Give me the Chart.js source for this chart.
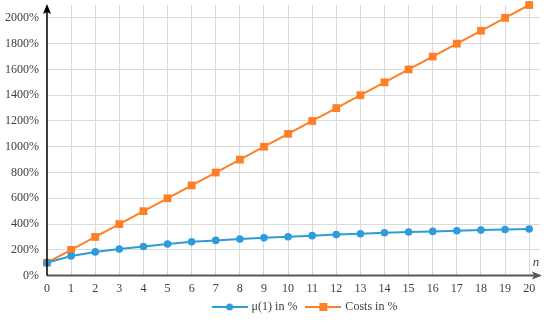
<!DOCTYPE html>
<html lang="en">
<head>
  <meta charset="UTF-8">
  <title>mu(1) vs costs</title>
  <script src="https://cdn.jsdelivr.net/npm/chart.js"></script>
  <style>
    html, body { margin: 0; padding: 0; background: #fff; }
    #wrap { width: 550px; height: 324px; }
  </style>
</head>
<body>
  <div id="wrap"><canvas id="chart"></canvas></div>

  <script>
    // data
    const nValues = [0,1,2,3,4,5,6,7,8,9,10,11,12,13,14,15,16,17,18,19,20];
    const muValues = [100,152,184,207,226,245,262,273,284,293,302,310,318,325,332,338,343,348,353,358,362];
    const costValues = [100,200,300,400,500,600,700,800,900,1000,1100,1200,1300,1400,1500,1600,1700,1800,1900,2000,2100];
    const yTicks = [0,200,400,600,800,1000,1200,1400,1600,1800,2000];
    const seriesNames = ['\u03bc(1) in %', 'Costs in %'];

    const BLUE = '#2E9CDB';
    const ORANGE = '#FF7F27';
    const FONT = "'Liberation Serif', 'Times New Roman', serif";

    // legend icon: short line with the marker in the middle
    const legendIcon = (color, square) => {
      const c = document.createElement('canvas');
      c.width = 36; c.height = 10;
      const g = c.getContext('2d');
      g.strokeStyle = color; g.lineWidth = 2;
      g.beginPath(); g.moveTo(0, 5); g.lineTo(36, 5); g.stroke();
      g.fillStyle = color;
      if (square) g.fillRect(14, 1, 8, 8);
      else { g.beginPath(); g.arc(18, 5, 3.5, 0, Math.PI * 2); g.fill(); }
      return c;
    };

    // axes with arrow heads and the "n" label
    const arrowAxes = {
      id: 'arrowAxes',
      afterLayout(chart) {
        // legend sits a bit right of the canvas centre and close under the labels
        chart.legend.left += 37;
        chart.legend.right += 37;
        chart.legend.top -= 11;
        chart.legend.bottom -= 11;
      },
      afterDraw(chart) {
        const { ctx, chartArea: a } = chart;
        ctx.save();
        // x axis
        ctx.strokeStyle = '#595959'; ctx.fillStyle = '#595959'; ctx.lineWidth = 2;
        ctx.beginPath(); ctx.moveTo(a.left, a.bottom); ctx.lineTo(a.right - 4, a.bottom); ctx.stroke();
        ctx.beginPath(); ctx.moveTo(a.right + 2, a.bottom); ctx.lineTo(a.right - 8, a.bottom - 4);
        ctx.lineTo(a.right - 6, a.bottom); ctx.lineTo(a.right - 8, a.bottom + 4); ctx.closePath(); ctx.fill();
        // y axis
        ctx.strokeStyle = '#000'; ctx.fillStyle = '#000'; ctx.lineWidth = 1.5;
        ctx.beginPath(); ctx.moveTo(a.left, a.bottom); ctx.lineTo(a.left, a.top + 4); ctx.stroke();
        ctx.beginPath(); ctx.moveTo(a.left, a.top - 1); ctx.lineTo(a.left - 4, a.top + 9);
        ctx.lineTo(a.left, a.top + 7); ctx.lineTo(a.left + 4, a.top + 9); ctx.closePath(); ctx.fill();
        // n
        ctx.fillStyle = '#404040';
        ctx.font = "italic 13px " + FONT;
        ctx.textAlign = 'center'; ctx.textBaseline = 'middle';
        ctx.fillText('n', a.right - 4, a.bottom - 13);
        ctx.restore();
      }
    };

    new Chart(document.getElementById('chart'), {
      type: 'line',
      data: {
        datasets: [
          {
            label: seriesNames[0],
            data: nValues.map((n, i) => ({ x: n, y: muValues[i] })),
            borderColor: BLUE, backgroundColor: BLUE,
            borderWidth: 2, pointStyle: 'circle', pointRadius: 3.8,
            pointBorderWidth: 0, tension: 0
          },
          {
            label: seriesNames[1],
            data: nValues.map((n, i) => ({ x: n, y: costValues[i] })),
            borderColor: ORANGE, backgroundColor: ORANGE,
            borderWidth: 2, pointStyle: 'rect', pointRadius: 5.5,
            pointBorderWidth: 0, tension: 0
          }
        ]
      },
      options: {
        responsive: true,
        maintainAspectRatio: false,
        animation: false,
        clip: false,
        layout: { autoPadding: false, padding: { left: -3, right: 10, top: 5, bottom: -10 } },
        plugins: {
          tooltip: { enabled: false },
          legend: {
            position: 'bottom',
            labels: {
              color: '#404040',
              font: { family: FONT, size: 12 },
              usePointStyle: true,
              pointStyleWidth: 32,
              boxHeight: 10,
              padding: 10,
              generateLabels: chart => chart.data.datasets.map((d, i) => ({
                text: d.label,
                pointStyle: legendIcon(d.borderColor, i === 1),
                fillStyle: d.borderColor,
                strokeStyle: d.borderColor,
                lineWidth: 0,
                fontColor: '#404040',
                datasetIndex: i
              }))
            }
          }
        },
        scales: {
          x: {
            type: 'linear',
            min: 0,
            max: 20.45,
            afterBuildTicks: s => { s.ticks = nValues.map(v => ({ value: v })); },
            ticks: { color: '#404040', font: { family: FONT, size: 12 }, padding: 6, maxRotation: 0, autoSkip: false },
            grid: { color: '#d9d9d9', lineWidth: 1, drawTicks: false },
            border: { display: false }
          },
          y: {
            min: 0,
            max: 2100,
            afterBuildTicks: s => { s.ticks = yTicks.map(v => ({ value: v })); },
            afterFit: s => { s.paddingTop = 0; },
            ticks: {
              color: '#404040', font: { family: FONT, size: 12 }, padding: 8,
              callback: v => v + '%'
            },
            grid: { color: '#d9d9d9', lineWidth: 1, drawTicks: false },
            border: { display: false }
          }
        }
      },
      plugins: [arrowAxes]
    });
  </script>
</body>
</html>
